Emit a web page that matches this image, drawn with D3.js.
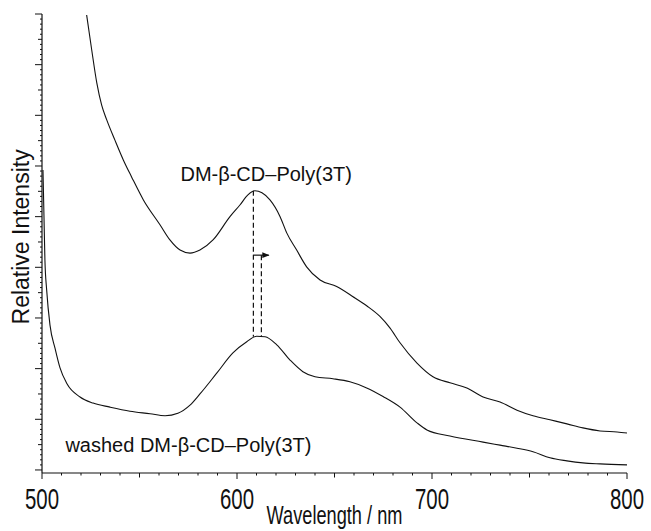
<!DOCTYPE html>
<html>
<head>
<meta charset="utf-8">
<script src="https://cdn.jsdelivr.net/npm/d3@7"></script>
<style>
  body { margin: 0; background: #fff; }
  svg { display: block; }
  text { fill: #111; font-family: "Liberation Sans", Arial, sans-serif; }
</style>
</head>
<body>
<svg id="chart"></svg>
<script>
// spectra (wavelength nm, relative intensity)
const polyWl = [522.9, 525.5, 528.1, 530.6, 533.2, 537.4, 541.7, 546.0, 552.0, 560.5, 565.6, 570.8, 575.9, 581.0, 587.7, 596.4, 601.5, 605.6, 609.2, 612.8, 616.9, 622.1, 625.5, 630.6, 635.7, 642.6, 651.1, 659.5, 666.5, 673.3, 678.5, 683.6, 692.3, 700.5, 709.2, 717.9, 726.2, 734.9, 743.6, 751.8, 760.5, 769.2, 777.4, 786.2, 794.9, 800];
const polyI = [8.98, 8.29, 7.64, 7.20, 6.91, 6.51, 6.12, 5.78, 5.33, 4.84, 4.54, 4.34, 4.28, 4.34, 4.54, 5.00, 5.23, 5.43, 5.51, 5.47, 5.33, 5.00, 4.68, 4.34, 4.01, 3.75, 3.62, 3.42, 3.24, 3.03, 2.80, 2.51, 2.11, 1.84, 1.72, 1.62, 1.44, 1.34, 1.18, 1.07, 0.99, 0.91, 0.83, 0.77, 0.75, 0.73];

const washedWl = [500.5, 501.0, 501.5, 502.4, 504.1, 506.7, 509.2, 512.8, 519.5, 526.2, 534.9, 545.1, 555.4, 563.1, 569.7, 575.9, 581.0, 589.6, 597.9, 605.0, 610.1, 614.4, 620.4, 627.2, 633.8, 640.0, 649.2, 657.9, 666.5, 674.9, 683.6, 692.3, 697.4, 709.2, 726.2, 734.9, 743.6, 751.8, 760.5, 769.2, 777.4, 786.2, 800];
const washedI = [5.92, 5.03, 4.14, 3.55, 2.86, 2.40, 2.02, 1.70, 1.44, 1.32, 1.24, 1.16, 1.11, 1.07, 1.12, 1.28, 1.50, 1.91, 2.31, 2.53, 2.64, 2.63, 2.47, 2.17, 1.94, 1.84, 1.80, 1.74, 1.62, 1.45, 1.24, 0.93, 0.79, 0.67, 0.55, 0.49, 0.43, 0.36, 0.24, 0.18, 0.14, 0.12, 0.10];

// peak markers: wavelength, top and bottom of the dashed drop lines
const peakWl = [608.4, 612.5];
const peakTop = [5.51, 4.24];
const peakBottom = [2.63, 2.63];
const shiftArrow = [608.4, 616.3, 4.24];

const xTicks = [500, 600, 700, 800];

const labels = [
  {text: "DM-\u03b2-CD\u2013Poly(3T)", wl: 571, v: 5.71},
  {text: "washed DM-\u03b2-CD\u2013Poly(3T)", wl: 512, v: 0.36}
];

const width = 651, height = 531;
const svg = d3.select("#chart").attr("width", width).attr("height", height);

const x = d3.scaleLinear().domain([500, 800]).range([42, 627]);
const y = d3.scaleLinear().domain([-0.06, 9.0]).range([473, 14]);

// axes lines
svg.append("line")
  .attr("x1", x(500)).attr("x2", x(800)).attr("y1", y(-0.06)).attr("y2", y(-0.06))
  .attr("stroke", "#111").attr("stroke-width", 1.2);
svg.append("line")
  .attr("x1", x(500)).attr("x2", x(500)).attr("y1", y(-0.06)).attr("y2", y(9))
  .attr("stroke", "#111").attr("stroke-width", 1.2);

// x ticks: every 10 nm, longer at 50 and 100
const xMinor = d3.range(500, 801, 10);
svg.append("g").selectAll("line")
  .data(xMinor)
  .join("line")
  .attr("x1", d => x(d)).attr("x2", d => x(d))
  .attr("y1", y(-0.06))
  .attr("y2", d => y(-0.06) + (d % 100 === 0 ? 6 : d % 50 === 0 ? 4.5 : 2.5))
  .attr("stroke", "#111").attr("stroke-width", 1);

// y ticks: every 0.1, longer at 0.5 and 1
const yMinor = d3.range(0, 90.5, 1).map(d => d / 10);
svg.append("g").selectAll("line")
  .data(yMinor)
  .join("line")
  .attr("y1", d => y(d)).attr("y2", d => y(d))
  .attr("x1", x(500))
  .attr("x2", (d, i) => x(500) - (i % 10 === 0 ? 7 : i % 5 === 0 ? 4 : 2))
  .attr("stroke", "#111").attr("stroke-width", 1);

// tick labels (condensed)
svg.append("g").selectAll("g")
  .data(xTicks)
  .join("g")
  .attr("transform", d => `translate(${x(d)},509) scale(0.68,1)`)
  .append("text")
  .attr("text-anchor", "middle")
  .style("font-size", "30px")
  .text(d => d);

svg.append("g")
  .attr("transform", `translate(${x(650)},524) scale(0.7,1)`)
  .append("text")
  .attr("text-anchor", "middle")
  .style("font-size", "26px")
  .text("Wavelength / nm");

svg.append("text")
  .attr("transform", `translate(29,${y(4.6)}) rotate(-90)`)
  .attr("text-anchor", "middle")
  .style("font-size", "23px")
  .text("Relative Intensity");

const line = d3.line().curve(d3.curveMonotoneX).x(d => x(d[0])).y(d => y(d[1]));

svg.append("path")
  .datum(d3.zip(polyWl, polyI))
  .attr("d", line)
  .attr("fill", "none").attr("stroke", "#111").attr("stroke-width", 1.1);

svg.append("path")
  .datum(d3.zip(washedWl, washedI))
  .attr("d", line)
  .attr("fill", "none").attr("stroke", "#111").attr("stroke-width", 1.1);

// dashed drop lines
svg.append("g").selectAll("line")
  .data(peakWl)
  .join("line")
  .attr("x1", d => x(d)).attr("x2", d => x(d))
  .attr("y1", (d, i) => y(peakTop[i])).attr("y2", (d, i) => y(peakBottom[i]))
  .attr("stroke", "#111").attr("stroke-width", 1.2)
  .attr("stroke-dasharray", "5,3");

svg.append("defs").append("marker")
  .attr("id", "arrow").attr("viewBox", "0 0 10 10")
  .attr("refX", 9).attr("refY", 5)
  .attr("markerWidth", 6).attr("markerHeight", 6)
  .attr("orient", "auto")
  .append("path").attr("d", "M0,1L10,5L0,9Z").attr("fill", "#111");

svg.append("line")
  .attr("x1", x(shiftArrow[0])).attr("x2", x(shiftArrow[1]))
  .attr("y1", y(shiftArrow[2])).attr("y2", y(shiftArrow[2]))
  .attr("stroke", "#111").attr("stroke-width", 1.2)
  .attr("marker-end", "url(#arrow)");

svg.append("g").selectAll("text")
  .data(labels)
  .join("text")
  .attr("x", d => x(d.wl)).attr("y", d => y(d.v))
  .style("font-size", "20px")
  .text(d => d.text);
</script>
</body>
</html>
